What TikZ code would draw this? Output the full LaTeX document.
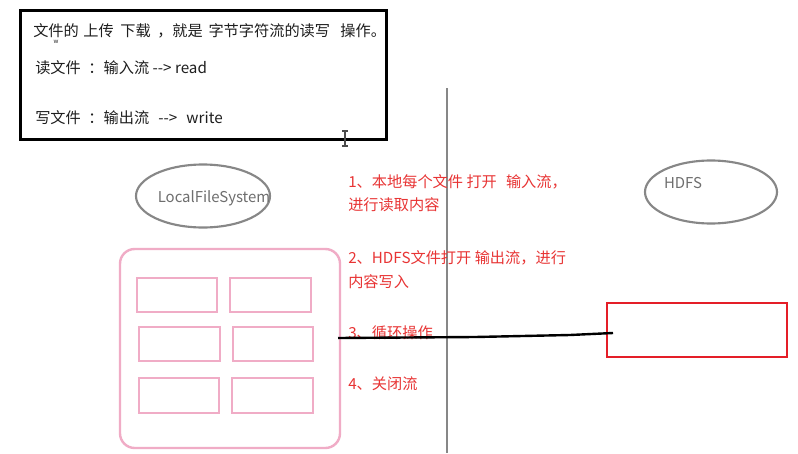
\documentclass[tikz,border=0pt]{standalone}
\usepackage{fontspec}
\setmainfont{Noto Sans CJK SC}
\usetikzlibrary{shapes.geometric}
\definecolor{pinkc}{RGB}{240,172,198}
\definecolor{redtxt}{RGB}{232,52,52}
\definecolor{redbox}{RGB}{228,30,40}
\definecolor{grayl}{RGB}{135,135,135}
\definecolor{graytxt}{RGB}{110,110,110}
\definecolor{boxtxt}{RGB}{30,30,30}
\begin{document}
\begin{tikzpicture}[x=0.75pt,y=-0.75pt,
  boxtext/.style={anchor=west,inner sep=0pt,font=\fontsize{11.4pt}{13pt}\selectfont,text=boxtxt},
  redtext/.style={anchor=west,inner sep=0pt,font=\fontsize{11.4pt}{13pt}\selectfont,text=redtxt},
  fsell/.style={ellipse,draw=grayl,line width=1.6pt,inner sep=0pt},
  cell/.style={draw=pinkc,line width=1.8pt,inner sep=0pt},
  lbl/.style={inner sep=0pt,text=graytxt,font=\fontsize{11.2pt}{13pt}\selectfont}]
\useasboundingbox (0,0) rectangle (798,453);
\fill[white] (0,0) rectangle (798,453);
% top black box
\node[draw=black,line width=2.2pt,minimum width=274.5pt,minimum height=96.75pt,inner sep=0pt] (topbox) at (203.5,75) {};
\node[boxtext] (t1) at (33,31) {文件的\hspace{0.3em}上传\hspace{0.43em}下载\hspace{0.43em}，就是\hspace{0.37em}字节字符流的读写\hspace{0.68em}操作。};
\node[boxtext] (t2) at (35,68) {读文件\hspace{0.5em}：输入流 -{}-{}> read};
\node[boxtext] (t3) at (35,118) {写文件\hspace{0.5em}：输出流\hspace{0.6em}-{}-{}>\hspace{0.6em}write};
\node[inner sep=0pt,font=\fontsize{4.5pt}{5pt}\selectfont,text=boxtxt] (wmark) at (56,42) {w};
% cursor
\draw[line width=0.8pt,draw=black!70] (345,131) -- (345,146)
  (342,131) -- (348,131) (342,146) -- (348,146);
% vertical separator
\coordinate (vtop) at (447,88);
\coordinate (vbot) at (447,453);
\draw[grayl,line width=2.2pt] (vtop) -- (vbot);
% ellipses
\node[fsell,minimum width=100.5pt,minimum height=47.25pt] (lfs) at (203,196) {};
\node[lbl] (lfstxt) at (214,198) {LocalFileSystem};
\node[fsell,minimum width=99pt,minimum height=47.25pt] (hdfs) at (711,192) {};
\node[lbl] (hdfstxt) at (683,183) {HDFS};
% pink container
\draw[pinkc,line width=1.8pt,rounded corners=11pt] (120,249) rectangle (340,448);
\coordinate (pinkE) at (338,338);
\draw[cell] (137,278) rectangle (217,312);
\draw[cell] (230,278) rectangle (311,312);
\draw[cell] (139,327) rectangle (220,361);
\draw[cell] (233,327) rectangle (313,361);
\draw[cell] (139,378) rectangle (219,413);
\draw[cell] (232,378) rectangle (313,413);
% red box
\node[draw=redbox,line width=1.8pt,minimum width=135pt,minimum height=40.5pt,inner sep=0pt] (redb) at (697,330) {};
\coordinate (lineend) at (613,333);
% red steps
\node[redtext] (s1a) at (348,182) {1、本地每个文件 打开\hspace{0.6em}输入流，};
\node[redtext] (s1b) at (348,205) {进行读取内容};
\node[redtext] (s2a) at (348,258) {2、HDFS文件打开 输出流，进行};
\node[redtext] (s2b) at (348,282) {内容写入};
\node[redtext] (s3) at (348,333) {3、循环操作};
\node[redtext] (s4) at (348,384) {4、关闭流};
% connector
\draw[black,line width=1.8pt] (pinkE) -- (475,337) -- (570,335) -- (lineend);
\end{tikzpicture}
\end{document}
